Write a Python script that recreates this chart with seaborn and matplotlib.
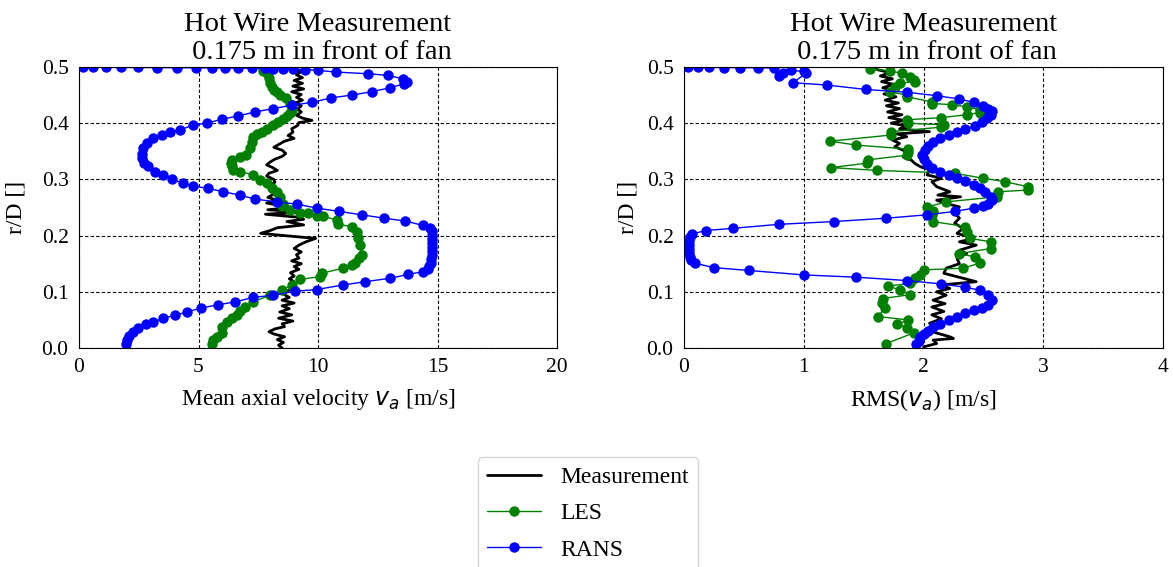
import numpy as np
import pandas as pd
import matplotlib
matplotlib.use("Agg")
import matplotlib.pyplot as plt
import seaborn as sns

# ---------------- data ----------------
# Left panel: mean axial velocity (x) vs r/D (y)
meas_va_y = [0.497, 0.492, 0.486, 0.481, 0.476, 0.471, 0.466, 0.461, 0.456, 0.451, 0.446, 0.441,
             0.436, 0.431, 0.425, 0.420, 0.414, 0.409, 0.405, 0.401, 0.396, 0.390, 0.384, 0.378,
             0.373, 0.368, 0.362, 0.357, 0.352, 0.346, 0.341, 0.336, 0.331, 0.326, 0.321, 0.316,
             0.311, 0.306, 0.300, 0.295, 0.290, 0.285, 0.279, 0.274, 0.268, 0.263, 0.258, 0.254,
             0.250, 0.246, 0.242, 0.238, 0.233, 0.229, 0.225, 0.219, 0.214, 0.209, 0.204, 0.200,
             0.195, 0.189, 0.183, 0.177, 0.171, 0.166, 0.160, 0.155, 0.150, 0.145, 0.140, 0.134,
             0.128, 0.123, 0.118, 0.112, 0.107, 0.101, 0.096, 0.090, 0.085, 0.080, 0.075, 0.070,
             0.064, 0.059, 0.053, 0.048, 0.043, 0.038, 0.034, 0.029, 0.025, 0.020, 0.015, 0.010,
             0.005, 0.000]
meas_va_x = [9.0, 9.3, 9.1, 9.35, 9.0, 9.35, 8.95, 9.4, 8.9, 9.3, 9.1, 9.35,
             9.05, 9.3, 9.15, 9.3, 9.1, 9.35, 9.75, 9.2, 9.15, 8.9, 8.95, 8.75,
             9.0, 8.6, 8.35, 8.15, 8.5, 8.65, 8.5, 8.2, 8.0, 7.85, 8.1, 8.3,
             7.95, 7.85, 8.15, 8.2, 8.0, 8.2, 8.05, 8.15, 7.9, 8.3, 7.85, 8.35,
             8.9, 7.9, 9.3, 7.8, 9.1, 9.4, 8.7, 9.4, 8.3, 8.0, 7.6, 8.6,
             9.9, 9.5, 9.2, 9.0, 9.3, 9.1, 9.2, 8.9, 9.3, 9.0, 9.2, 8.85,
             9.0, 8.8, 9.0, 8.85, 9.0, 8.7, 8.55, 8.8, 8.5, 9.0, 8.5, 8.8,
             8.4, 8.9, 8.35, 8.95, 8.5, 8.6, 8.2, 7.95, 8.15, 8.6, 8.3, 8.55,
             8.35, 8.5]

les_va_y = [0.498, 0.493, 0.489, 0.480, 0.471, 0.465, 0.459, 0.455, 0.451, 0.444, 0.435, 0.423,
            0.418, 0.412, 0.407, 0.403, 0.397, 0.390, 0.385, 0.380, 0.376, 0.367, 0.355, 0.343,
            0.340, 0.335, 0.329, 0.323, 0.317, 0.314, 0.308, 0.299, 0.293, 0.285, 0.278, 0.269,
            0.257, 0.252, 0.246, 0.240, 0.240, 0.234, 0.234, 0.228, 0.220, 0.216, 0.207, 0.195,
            0.183, 0.165, 0.160, 0.151, 0.148, 0.142, 0.133, 0.127, 0.122, 0.112, 0.103, 0.094,
            0.082, 0.073, 0.065, 0.059, 0.053, 0.047, 0.038, 0.026, 0.020, 0.014, 0.007]
les_va_x = [7.70, 7.69, 7.85, 7.96, 7.99, 8.06, 8.16, 8.27, 8.41, 8.66, 8.83, 8.90,
            8.83, 8.69, 8.55, 8.34, 8.13, 7.85, 7.64, 7.44, 7.27, 7.23, 7.15, 6.99,
            6.74, 6.39, 6.36, 6.39, 6.46, 6.74, 7.29, 7.57, 7.85, 8.06, 8.27, 8.41,
            8.55, 8.48, 8.83, 9.25, 9.60, 9.94, 10.22, 10.78, 10.85, 11.41, 11.62, 11.69,
            11.76, 11.83, 11.73, 11.55, 11.41, 11.06, 10.15, 10.08, 9.25, 8.90, 8.48, 7.99,
            7.29, 6.95, 6.74, 6.60, 6.39, 6.18, 5.97, 5.97, 5.76, 5.62, 5.55]

rans_va_y = [0.4995, 0.4995, 0.4994, 0.4993, 0.4992, 0.4990, 0.4988, 0.4986, 0.4984, 0.4982,
             0.4980, 0.4977, 0.4974, 0.4971, 0.4967, 0.4962, 0.4955, 0.494, 0.491, 0.488,
             0.485, 0.479, 0.473, 0.470, 0.463, 0.456, 0.450, 0.445, 0.437, 0.432,
             0.426, 0.420, 0.413, 0.407, 0.400, 0.397, 0.388, 0.384, 0.379, 0.374,
             0.364, 0.355, 0.346, 0.338, 0.330, 0.323, 0.313, 0.308, 0.301, 0.293,
             0.288, 0.284, 0.278, 0.272, 0.265, 0.260, 0.256, 0.249, 0.243, 0.237,
             0.231, 0.226, 0.218, 0.214, 0.208, 0.201, 0.194, 0.187, 0.180, 0.173,
             0.166, 0.159, 0.152, 0.146, 0.141, 0.136, 0.131, 0.124, 0.118, 0.112,
             0.104, 0.101, 0.094, 0.090, 0.082, 0.077, 0.071, 0.064, 0.058, 0.053,
             0.046, 0.042, 0.036, 0.029, 0.021, 0.014, 0.007]
rans_va_x = [0.18, 0.57, 1.15, 1.74, 2.48, 3.28, 4.09, 4.90, 5.55, 6.11,
             6.67, 7.23, 7.78, 8.12, 8.54, 8.95, 9.45, 10.0, 10.75, 12.1,
             12.94, 13.54, 13.71, 13.60, 13.01, 12.25, 11.41, 10.54, 9.74, 8.90,
             8.13, 7.36, 6.67, 5.97, 5.34, 4.78, 4.23, 3.81, 3.46, 3.11,
             2.83, 2.66, 2.62, 2.62, 2.72, 2.90, 3.18, 3.53, 3.88, 4.36,
             4.78, 5.41, 6.04, 6.74, 7.36, 8.27, 9.11, 9.94, 10.89, 11.83,
             12.76, 13.64, 14.41, 14.69, 14.76, 14.78, 14.79, 14.79, 14.78, 14.77,
             14.76, 14.74, 14.72, 14.66, 14.60, 14.41, 13.78, 13.01, 11.97, 11.03,
             9.94, 9.04, 8.13, 7.29, 6.53, 5.83, 5.10, 4.50, 4.02, 3.53,
             3.11, 2.80, 2.48, 2.25, 2.11, 2.00, 1.97]

# Right panel: RMS of axial velocity (x) vs r/D (y)
meas_rms_y = [0.500, 0.495, 0.490, 0.484, 0.479, 0.474, 0.469, 0.463, 0.458, 0.452, 0.447, 0.441,
              0.436, 0.431, 0.426, 0.420, 0.415, 0.410, 0.405, 0.400, 0.395, 0.390, 0.385, 0.381,
              0.376, 0.370, 0.364, 0.358, 0.352, 0.346, 0.340, 0.334, 0.328, 0.322, 0.317, 0.308,
              0.302, 0.296, 0.287, 0.278, 0.272, 0.269, 0.263, 0.257, 0.251, 0.243, 0.231, 0.222,
              0.213, 0.204, 0.195, 0.189, 0.183, 0.174, 0.168, 0.159, 0.150, 0.142, 0.133, 0.118,
              0.112, 0.106, 0.100, 0.094, 0.085, 0.079, 0.073, 0.065, 0.059, 0.052, 0.044, 0.038,
              0.029, 0.020, 0.017, 0.014, 0.008, 0.002]
meas_rms_x = [1.55, 1.62, 1.72, 1.64, 1.74, 1.65, 1.75, 1.66, 1.76, 1.67, 1.77, 1.68,
              1.79, 1.69, 1.80, 1.70, 1.82, 1.71, 1.84, 1.73, 1.86, 1.80, 2.05, 1.78,
              1.86, 1.74, 1.80, 1.76, 1.83, 1.86, 1.83, 1.90, 1.93, 1.98, 2.05, 2.03,
              2.15, 2.07, 2.11, 2.22, 2.12, 2.31, 2.11, 2.19, 2.30, 2.25, 2.30, 2.26,
              2.33, 2.28, 2.42, 2.30, 2.44, 2.30, 2.36, 2.28, 2.30, 2.19, 2.17, 2.44,
              2.14, 2.22, 2.11, 2.19, 2.08, 2.18, 2.07, 2.17, 2.07, 2.15, 2.05, 2.14,
              2.07, 2.22, 2.25, 2.08, 2.11, 2.00]

les_rms_y = [0.497, 0.493, 0.489, 0.483, 0.477, 0.474, 0.471, 0.465, 0.456, 0.450, 0.447, 0.438,
             0.435, 0.433, 0.429, 0.424, 0.419, 0.415, 0.410, 0.406, 0.400, 0.397, 0.393, 0.385,
             0.379, 0.368, 0.361, 0.354, 0.349, 0.343, 0.335, 0.329, 0.321, 0.316, 0.311, 0.302,
             0.296, 0.287, 0.281, 0.278, 0.269, 0.260, 0.251, 0.243, 0.237, 0.225, 0.216, 0.207,
             0.195, 0.189, 0.177, 0.168, 0.162, 0.151, 0.142, 0.139, 0.130, 0.124, 0.115, 0.110,
             0.104, 0.095, 0.088, 0.080, 0.072, 0.056, 0.050, 0.042, 0.036, 0.027, 0.008]
les_rms_x = [1.55, 1.72, 1.82, 1.89, 1.92, 1.93, 1.80, 1.76, 1.72, 1.86, 1.86, 2.07,
             2.07, 2.24, 2.36, 2.47, 2.47, 2.36, 2.15, 1.86, 1.87, 2.17, 2.15, 1.73,
             1.73, 1.22, 1.44, 1.87, 1.87, 1.86, 1.54, 1.53, 1.23, 1.61, 2.26, 2.50,
             2.68, 2.87, 2.87, 2.62, 2.61, 2.19, 2.03, 2.08, 2.07, 2.08, 2.35, 2.36,
             2.39, 2.56, 2.56, 2.30, 2.43, 2.47, 2.33, 2.00, 1.97, 1.93, 1.89, 1.70,
             1.80, 1.89, 1.66, 1.65, 1.68, 1.62, 1.87, 1.78, 1.86, 1.92, 1.69]

rans_rms_y = [0.4995, 0.4994, 0.4993, 0.4991, 0.4989, 0.4986, 0.4982, 0.484, 0.489, 0.494,
              0.492, 0.489, 0.472, 0.468, 0.460, 0.455, 0.449, 0.443, 0.437, 0.431,
              0.426, 0.421, 0.415, 0.409, 0.403, 0.395, 0.389, 0.385, 0.379, 0.374,
              0.367, 0.359, 0.352, 0.343, 0.336, 0.327, 0.320, 0.314, 0.308, 0.303,
              0.298, 0.290, 0.284, 0.278, 0.269, 0.263, 0.257, 0.252, 0.249, 0.243,
              0.237, 0.231, 0.225, 0.220, 0.213, 0.209, 0.203, 0.197, 0.190, 0.183,
              0.176, 0.169, 0.162, 0.156, 0.151, 0.143, 0.138, 0.130, 0.126, 0.120,
              0.114, 0.108, 0.103, 0.094, 0.085, 0.077, 0.071, 0.068, 0.062, 0.056,
              0.050, 0.043, 0.037, 0.031, 0.025, 0.019, 0.013, 0.007]
rans_rms_x = [0.036, 0.12, 0.21, 0.33, 0.47, 0.62, 0.75, 0.79, 0.83, 0.89,
              1.00, 1.02, 0.91, 1.19, 1.52, 1.86, 2.11, 2.30, 2.42, 2.50,
              2.54, 2.57, 2.56, 2.53, 2.49, 2.43, 2.35, 2.28, 2.21, 2.14,
              2.08, 2.04, 2.01, 1.99, 2.00, 2.03, 2.07, 2.14, 2.21, 2.28,
              2.35, 2.42, 2.47, 2.51, 2.56, 2.57, 2.54, 2.50, 2.42, 2.26,
              2.03, 1.69, 1.25, 0.79, 0.41, 0.18, 0.07, 0.05, 0.045, 0.04,
              0.04, 0.045, 0.05, 0.06, 0.09, 0.25, 0.54, 1.00, 1.44, 1.86,
              2.15, 2.35, 2.47, 2.54, 2.57, 2.54, 2.49, 2.42, 2.35, 2.28,
              2.21, 2.14, 2.08, 2.04, 2.00, 1.97, 1.96, 1.94]

series_labels = ["Measurement", "LES", "RANS"]
xlabels = ["Mean axial velocity $v_a$ [m/s]", "RMS($v_a$) [m/s]"]
ylabel = "r/D []"
title = "Hot Wire Measurement\n 0.175 m in front of fan"
xticks_left = [0, 5, 10, 15, 20]
xticks_right = [0, 1, 2, 3, 4]
yticks = [0.0, 0.1, 0.2, 0.3, 0.4, 0.5]

# ---------------- style ----------------
sns.set_style("white")
plt.rcParams["font.family"] = ["Liberation Serif", "DejaVu Serif"]
plt.rcParams["mathtext.fontset"] = "dejavusans"
plt.rcParams["xtick.direction"] = "out"
plt.rcParams["ytick.direction"] = "out"
for key in ["text.color", "axes.labelcolor", "xtick.color", "ytick.color", "axes.edgecolor"]:
    plt.rcParams[key] = "black"

W, H = 1173, 567
fig = plt.figure(figsize=(W / 100, H / 100), dpi=100)

def frac(x0, y0, x1, y1):
    return [x0 / W, 1 - y1 / H, (x1 - x0) / W, (y1 - y0) / H]

axL = fig.add_axes(frac(79, 67, 557, 348))
axR = fig.add_axes(frac(684, 67, 1163, 348))

panels = [
    (axL, meas_va_x, meas_va_y, les_va_x, les_va_y, rans_va_x, rans_va_y, xticks_left, xlabels[0], 11),
    (axR, meas_rms_x, meas_rms_y, les_rms_x, les_rms_y, rans_rms_x, rans_rms_y, xticks_right, xlabels[1], 6),
]

for ax, mx, my, lx, ly, rx, ry, xt, xl, ypad in panels:
    ax.set_axisbelow(True)
    ax.grid(True, color="black", linestyle="--", linewidth=0.8, dashes=(3, 2))
    sns.lineplot(x=mx, y=my, sort=False, estimator=None, color="black", linewidth=2,
                 ax=ax, label=series_labels[0], legend=False)
    sns.lineplot(x=lx, y=ly, sort=False, estimator=None, color="green", linewidth=1,
                 marker="o", markersize=7.5, markeredgewidth=0, ax=ax,
                 label=series_labels[1], legend=False)
    sns.lineplot(x=rx, y=ry, sort=False, estimator=None, color="blue", linewidth=1,
                 marker="o", markersize=7.5, markeredgewidth=0, ax=ax,
                 label=series_labels[2], legend=False)
    ax.set_xlim(xt[0], xt[-1])
    ax.set_ylim(0, 0.5)
    ax.set_xticks(xt)
    ax.set_yticks(yticks)
    ax.set_xticklabels([str(v) for v in xt])
    ax.set_yticklabels([f"{v:.1f}" for v in yticks])
    ax.tick_params(labelsize=15.5, length=4, width=0.8, color="black", labelcolor="black")
    ax.set_xlabel(xl, fontsize=17, labelpad=7)
    ax.set_ylabel(ylabel, fontsize=17, labelpad=ypad)
    ax.set_title(title, fontsize=20.5, linespacing=1.12, pad=6, color="black")
    for s in ax.spines.values():
        s.set_color("black")
        s.set_linewidth(0.8)

handles, labels = axL.get_legend_handles_labels()
fig.legend(handles, labels, loc="upper center", bbox_to_anchor=(588 / W, 1 - 445 / H),
           fontsize=17, handlelength=2.3, frameon=True, fancybox=True, edgecolor="#cccccc",
           labelspacing=0.63)

fig.savefig("out.png", dpi=100)
